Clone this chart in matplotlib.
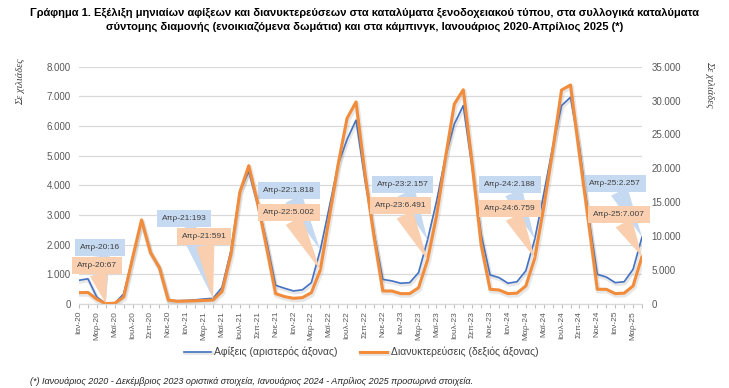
import matplotlib
matplotlib.use("Agg")
import matplotlib.pyplot as plt
import matplotlib.patheffects as pe
from matplotlib.ticker import FuncFormatter, MultipleLocator

# ---------------------------------------------------------------
# DATA (thousands)
# ---------------------------------------------------------------
MONTHS = ["Ιαν", "Φεβ", "Μαρ", "Απρ", "Μαϊ", "Ιουν",
          "Ιουλ", "Αυγ", "Σεπ", "Οκτ", "Νοε", "Δεκ"]
YEARS = ["20", "21", "22", "23", "24", "25"]

arrivals = [
    800, 850, 230, 16, 30, 340, 1560, 2800, 1740, 1230, 130, 110,          # 2020
    120, 140, 170, 193, 560, 1800, 3800, 4470, 3350, 2100, 630, 530,       # 2021
    440, 480, 720, 1818, 3250, 4700, 5550, 6200, 4200, 2400, 830, 780,     # 2022
    700, 720, 1060, 2157, 3450, 4950, 6070, 6690, 4600, 2350, 980, 890,    # 2023
    700, 750, 1120, 2188, 3700, 5280, 6690, 6970, 5280, 3000, 1000, 910,   # 2024
    720, 750, 1170, 2257,                                                  # 2025
]
overnights = [
    1680, 1700, 700, 67, 120, 1030, 6830, 12400, 7600, 5360, 570, 400,
    440, 480, 530, 591, 1820, 7300, 16500, 20400, 14900, 8300, 1530, 1090,
    840, 940, 1670, 5002, 12700, 20600, 27400, 29800, 19250, 10060, 1920, 1920,
    1530, 1530, 2400, 6491, 12900, 21500, 29500, 31600, 20650, 8800, 2170, 2070,
    1530, 1600, 2660, 6759, 14200, 22600, 31560, 32300, 22100, 12300, 2170, 2170,
    1530, 1600, 2660, 7007,
]
labels = [f"{m}-{y}" for y in YEARS for m in MONTHS][:len(arrivals)]

# callouts: April of each year, (offset px in x, offset px in y)
callout_idx = [3, 15, 27, 39, 51, 63]
blue_offsets = [(-6, 56), (-29, 80), (-31, 60), (-25, 56), (-25, 55), (-27, 54)]
orange_offsets = [(-9, 38), (-9, 63), (-31, 58), (-27, 54), (-25, 50), (-23, 42)]

BLUE = "#4472C4"
ORANGE = "#F28C3A"
BLUE_BOX = "#C5D9F1"
ORANGE_BOX = "#F9CFB0"
GRAY = "#595959"


def thousands(v, _pos=None):
    return f"{v:,.0f}".replace(",", ".")


# ---------------------------------------------------------------
# FIGURE
# ---------------------------------------------------------------
plt.rcParams["font.family"] = ["Liberation Sans", "DejaVu Sans"]
fig = plt.figure(figsize=(7.29, 3.88), dpi=100)
ax = fig.add_axes([79 / 729, 1 - 304 / 388, (642 - 79) / 729, (304 - 66.7) / 388])
ax2 = ax.twinx()

x = list(range(len(arrivals)))


def soft_shadow(lw):
    return [pe.SimpleLineShadow(offset=(0.6, -1.2), shadow_color="#7f7f7f",
                                alpha=0.18, linewidth=lw + 1.5),
            pe.Normal()]


ax.plot(x, arrivals, color=BLUE, lw=1.2, path_effects=soft_shadow(1.2),
        label="Αφίξεις (αριστερός άξονας)")
ax2.plot(x, overnights, color=ORANGE, lw=2.2, path_effects=soft_shadow(2.2),
         label="Διανυκτερεύσεις (δεξιός άξονας)")

ax.set_xlim(0, len(arrivals) - 1)
ax.set_ylim(0, 8000)
ax2.set_ylim(0, 35000)
ax.yaxis.set_major_locator(MultipleLocator(1000))
ax2.yaxis.set_major_locator(MultipleLocator(5000))
ax.yaxis.set_major_formatter(FuncFormatter(thousands))
ax2.yaxis.set_major_formatter(FuncFormatter(thousands))
ax.grid(axis="y", color="#d9d9d9", lw=0.9)
ax.set_axisbelow(True)

ax.set_xticks(x)
ax.set_xticklabels([lab if i % 2 == 0 else "" for i, lab in enumerate(labels)],
                   rotation=90, fontsize=6, color=GRAY)
ax.tick_params(axis="x", length=3, color="#bfbfbf", pad=2)
ax.tick_params(axis="y", length=0, labelsize=7, labelcolor=GRAY, pad=6)
ax2.tick_params(axis="y", length=0, labelsize=7, labelcolor=GRAY, pad=7)
for a in (ax, ax2):
    for s in ("top", "left", "right"):
        a.spines[s].set_visible(False)
    a.spines["bottom"].set_color("#d9d9d9")

# callouts
for i, (dx, dy) in zip(callout_idx, blue_offsets):
    ax.annotate(f"{labels[i]}:{thousands(arrivals[i])}",
                xy=(i, arrivals[i]), xytext=(dx * 0.72, dy * 0.72),
                textcoords="offset points", ha="center", va="center",
                fontsize=6, color="#404040",
                bbox=dict(boxstyle="square,pad=0.6", fc=BLUE_BOX, ec="none"),
                arrowprops=dict(arrowstyle="wedge,tail_width=2.2,shrink_factor=0.5",
                                fc=BLUE_BOX, ec="none", shrinkA=0, shrinkB=0))
for i, (dx, dy) in zip(callout_idx, orange_offsets):
    ax2.annotate(f"{labels[i]}:{thousands(overnights[i])}",
                 xy=(i, overnights[i]), xytext=(dx * 0.72, dy * 0.72),
                 textcoords="offset points", ha="center", va="center",
                 fontsize=6, color="#404040",
                 bbox=dict(boxstyle="square,pad=0.6", fc=ORANGE_BOX, ec="none"),
                 arrowprops=dict(arrowstyle="wedge,tail_width=2.2,shrink_factor=0.5",
                                 fc=ORANGE_BOX, ec="none", shrinkA=0, shrinkB=0))

# axis unit labels
fig.text(21 / 729, 1 - 82 / 388, "Σε χιλιάδες", rotation=90, ha="center", va="center",
         fontsize=7.5, style="italic", family=["Liberation Serif", "DejaVu Serif"],
         color="#404040")
fig.text(710 / 729, 1 - 84 / 388, "Σε χιλιάδες", rotation=270, ha="center", va="center",
         fontsize=7.5, style="italic", family=["Liberation Serif", "DejaVu Serif"],
         color="#404040")

# title
fig.text(0.5, 1 - 20 / 388,
         "Γράφημα 1. Εξέλιξη μηνιαίων αφίξεων και διανυκτερεύσεων στα καταλύματα "
         "ξενοδοχειακού τύπου, στα συλλογικά καταλύματα\n"
         "σύντομης διαμονής (ενοικιαζόμενα δωμάτια) και στα κάμπινγκ, "
         "Ιανουάριος 2020-Απρίλιος 2025 (*)",
         ha="center", va="center", fontsize=8, fontweight="bold",
         family=["Liberation Sans Narrow", "Liberation Sans", "DejaVu Sans"],
         linespacing=1.4)

# legend
h1, l1 = ax.get_legend_handles_labels()
h2, l2 = ax2.get_legend_handles_labels()
fig.legend(h1 + h2, l1 + l2, loc="center", bbox_to_anchor=(361 / 729, 1 - 352 / 388),
           ncol=2, frameon=False, fontsize=7.5, handlelength=2.6, columnspacing=2.2,
           handletextpad=0.3, labelcolor="#404040")

# footnote
fig.text(30 / 729, 1 - 381 / 388,
         "(*) Ιανουάριος 2020 - Δεκέμβριος 2023 οριστικά στοιχεία, "
         "Ιανουάριος 2024 - Απρίλιος 2025 προσωρινά στοιχεία.",
         ha="left", va="center", fontsize=6.5, style="italic", color="#262626")

fig.savefig("out.png", dpi=100)
